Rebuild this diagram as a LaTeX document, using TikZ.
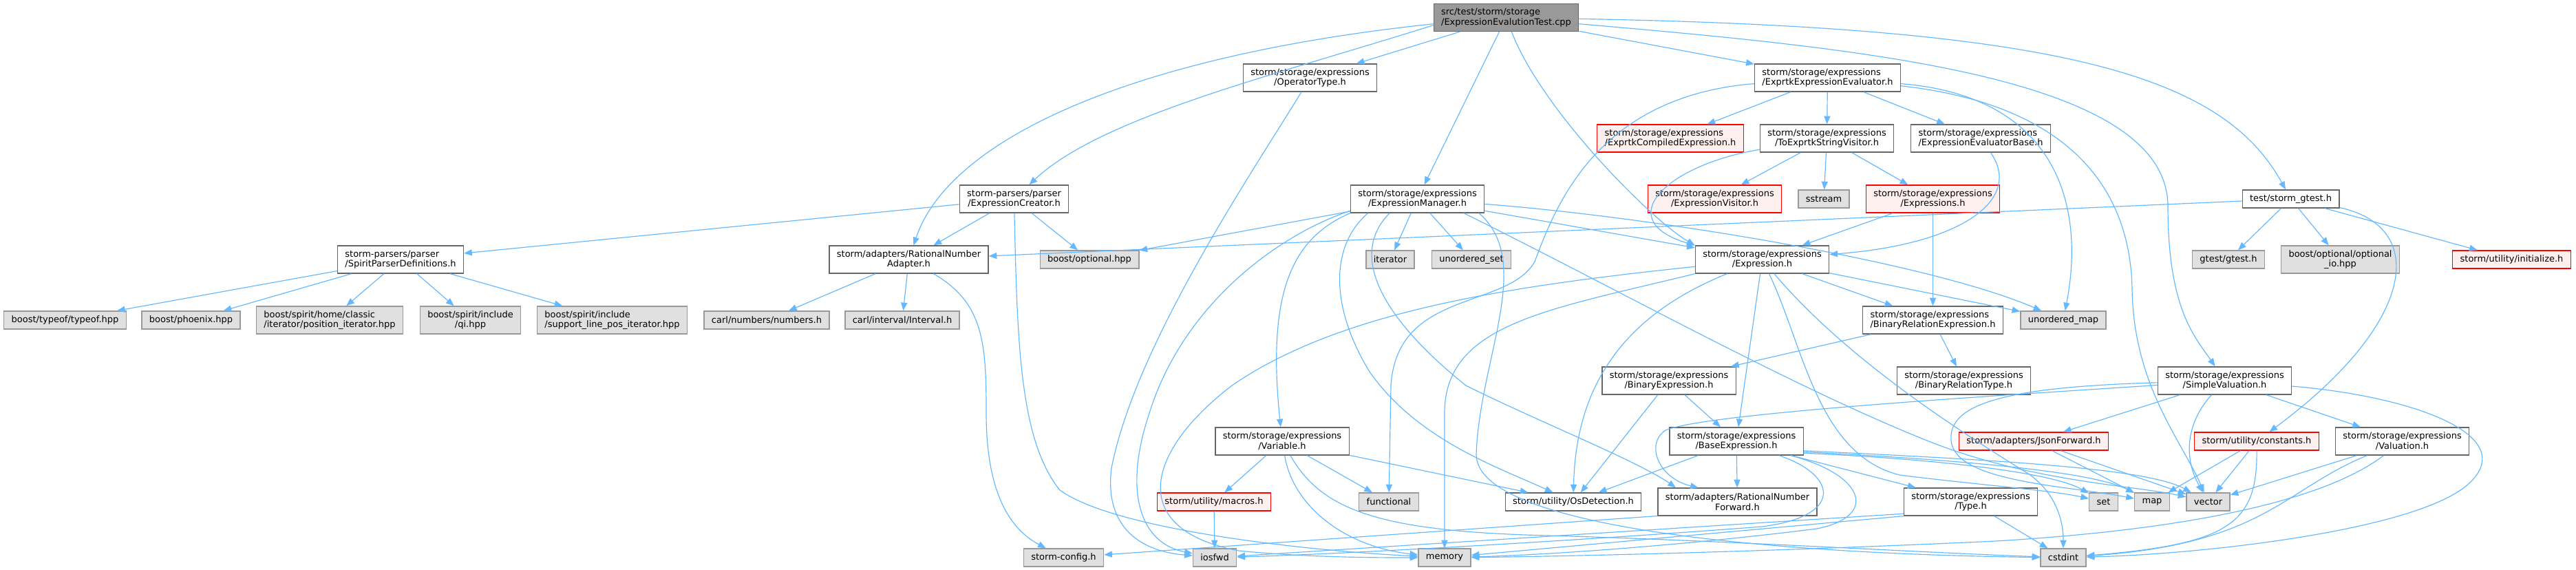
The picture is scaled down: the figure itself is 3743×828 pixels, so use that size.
\documentclass[tikz,border=0pt]{standalone}
\usepackage{fontspec}
\setmainfont{DejaVu Sans}
\usepackage{tikz}
\usetikzlibrary{arrows.meta}
\definecolor{edgeblue}{RGB}{99,184,255}
\definecolor{boxline}{RGB}{102,102,102}
\definecolor{sysline}{RGB}{153,153,153}
\definecolor{sysfill}{RGB}{224,224,224}
\definecolor{redfill}{RGB}{255,240,240}
\definecolor{rootfill}{RGB}{153,153,153}
\tikzset{
  filebox/.style={rectangle, draw=boxline, fill=white, line width=1pt,
    inner xsep=8.4pt, inner ysep=2pt, font=\fontsize{10}{11.3}\selectfont},
  sysbox/.style={filebox, draw=sysline, fill=sysfill},
  redbox/.style={filebox, draw=red, fill=redfill},
  rootbox/.style={filebox, fill=rootfill},
  one/.style={minimum height=20pt},
  two/.style={minimum height=30.8pt},
  incl/.style={-{Triangle[length=9pt,width=7pt]}, line width=0.9pt, color=edgeblue}
}

\begin{document}
\begin{tikzpicture}[x=0.77pt, y=-0.77pt]
  \useasboundingbox (0,0) rectangle (3743,828);
  % ── files, rank by rank ──
  \node[rootbox,two,align=left] (root) at (2188.5,25.5) {src/test/storm/storage\\/ExpressionEvalutionTest.cpp};
  \node[filebox,two,align=center] (optype) at (1903.5,113) {storm/storage/expressions\\/OperatorType.h};
  \node[filebox,two,align=left] (exprtkeval) at (2655.5,113) {storm/storage/expressions\\/ExprtkExpressionEvaluator.h};
  \node[redbox,two,align=left] (compiled) at (2427,201) {storm/storage/expressions\\/ExprtkCompiledExpression.h};
  \node[filebox,two,align=center] (tostring) at (2654.5,201) {storm/storage/expressions\\/ToExprtkStringVisitor.h};
  \node[filebox,two,align=left] (evalbase) at (2878,201) {storm/storage/expressions\\/ExpressionEvaluatorBase.h};
  \node[filebox,two,align=center] (creator) at (1473.5,289) {storm-parsers/parser\\/ExpressionCreator.h};
  \node[filebox,two,align=center] (manager) at (2059.5,289) {storm/storage/expressions\\/ExpressionManager.h};
  \node[redbox,two,align=center] (visitor) at (2491.5,289) {storm/storage/expressions\\/ExpressionVisitor.h};
  \node[sysbox,one] (sstream) at (2650,289) {sstream};
  \node[redbox,two,align=center] (expressions) at (2808.5,289) {storm/storage/expressions\\/Expressions.h};
  \node[filebox,one] (gtest) at (3328.5,289) {test/storm\_gtest.h};
  \node[filebox,two,align=left] (spirit) at (582,377) {storm-parsers/parser\\/SpiritParserDefinitions.h};
  \node[filebox,two,align=center] (ratadapter) at (1320.5,377) {storm/adapters/RationalNumber\\Adapter.h};
  \node[sysbox,one] (optional) at (1583,377) {boost/optional.hpp};
  \node[sysbox,one] (iterator) at (2020,377) {iterator};
  \node[sysbox,one] (uset) at (2138,377) {unordered\_set};
  \node[filebox,two,align=center] (expression) at (2560.5,377) {storm/storage/expressions\\/Expression.h};
  \node[sysbox,one] (gtestgtest) at (3238,377) {gtest/gtest.h};
  \node[sysbox,two,align=center] (optio) at (3400.5,377) {boost/optional/optional\\\_io.hpp};
  \node[redbox,one] (initialize) at (3649.5,377) {storm/utility/initialize.h};
  \node[sysbox,one] (typeof) at (94.5,465) {boost/typeof/typeof.hpp};
  \node[sysbox,one] (phoenix) at (277.5,465) {boost/phoenix.hpp};
  \node[sysbox,two,align=left] (positer) at (479,465) {boost/spirit/home/classic\\/iterator/position\_iterator.hpp};
  \node[sysbox,two,align=center] (qi) at (683.5,465) {boost/spirit/include\\/qi.hpp};
  \node[sysbox,two,align=left] (linepos) at (889.5,465) {boost/spirit/include\\/support\_line\_pos\_iterator.hpp};
  \node[sysbox,one] (numbers) at (1114,465) {carl/numbers/numbers.h};
  \node[sysbox,one] (interval) at (1311,465) {carl/interval/Interval.h};
  \node[filebox,two,align=left] (binrelexpr) at (2808.5,465) {storm/storage/expressions\\/BinaryRelationExpression.h};
  \node[sysbox,one] (umap) at (2998,465) {unordered\_map};
  \node[filebox,two,align=center] (binexpr) at (2425,553) {storm/storage/expressions\\/BinaryExpression.h};
  \node[filebox,two,align=center] (binreltype) at (2853.5,553) {storm/storage/expressions\\/BinaryRelationType.h};
  \node[filebox,two,align=center] (simpleval) at (3232.5,553) {storm/storage/expressions\\/SimpleValuation.h};
  \node[filebox,two,align=center] (variable) at (1863,641) {storm/storage/expressions\\/Variable.h};
  \node[filebox,two,align=center] (baseexpr) at (2523,641) {storm/storage/expressions\\/BaseExpression.h};
  \node[redbox,one] (jsonfwd) at (2955,641) {storm/adapters/JsonForward.h};
  \node[redbox,one] (constants) at (3279,641) {storm/utility/constants.h};
  \node[filebox,two,align=center] (valuation) at (3490.5,641) {storm/storage/expressions\\/Valuation.h};
  \node[redbox,one] (macros) at (1764,729) {storm/utility/macros.h};
  \node[sysbox,one] (functional) at (2018,729) {functional};
  \node[filebox,one] (osdet) at (2286,729) {storm/utility/OsDetection.h};
  \node[filebox,two,align=center] (ratfwd) at (2524.5,729) {storm/adapters/RationalNumber\\Forward.h};
  \node[filebox,two,align=center] (type) at (2863.5,729) {storm/storage/expressions\\/Type.h};
  \node[sysbox,one] (stdset) at (3056.5,729) {set};
  \node[sysbox,one] (stdmap) at (3127,729) {map};
  \node[sysbox,one] (stdvector) at (3208.5,729) {vector};
  \node[sysbox,one] (config) at (1545.5,810) {storm-config.h};
  \node[sysbox,one] (iosfwd) at (1765,810) {iosfwd};
  \node[sysbox,one] (memory) at (2099,810) {memory};
  \node[sysbox,one] (cstdint) at (2998,810) {cstdint};

  % ── includes of the test file ──
  \draw[incl] (root.185) .. controls (1650,80) and (1380,200) .. (ratadapter);
  \draw[incl] (root.186) .. controls (1850,110) and (1600,170) .. (creator);
  \draw[incl] (root) -- (optype);
  \draw[incl] (root) -- (manager);
  \draw[incl] (root) .. controls (2240,160) and (2400,320) .. (expression.north west);
  \draw[incl] (root) -- (exprtkeval);
  \draw[incl] (root) .. controls (2700,70) and (3150,110) .. (3150,300) .. controls (3150,450) and (3190,490) .. (simpleval);
  \draw[incl] (root) .. controls (3000,40) and (3230,110) .. (gtest);
  % parser side
  \draw[incl] (creator) -- (spirit);
  \draw[incl] (creator) -- (ratadapter);
  \draw[incl] (creator) -- (optional);
  \draw[incl] (creator) .. controls (1478,500) and (1482,640) .. (1540,712) .. controls (1620,770) and (1900,800) .. (memory);
  \draw[incl] (spirit) -- (typeof);
  \draw[incl] (spirit) -- (phoenix);
  \draw[incl] (spirit) -- (positer);
  \draw[incl] (spirit) -- (qi);
  \draw[incl] (spirit) -- (linepos);
  \draw[incl] (ratadapter) -- (numbers);
  \draw[incl] (ratadapter) -- (interval);
  \draw[incl] (ratadapter) .. controls (1430,440) and (1433,500) .. (1433,600) .. controls (1433,720) and (1470,770) .. (config);
  \draw[incl] (optype) .. controls (1820,250) and (1650,500) .. (1615,680) .. controls (1605,760) and (1650,800) .. (iosfwd);
  % evaluator
  \draw[incl] (exprtkeval) -- (compiled);
  \draw[incl] (exprtkeval) -- (tostring);
  \draw[incl] (exprtkeval) -- (evalbase);
  \draw[incl] (exprtkeval) .. controls (2990,140) and (3030,300) .. (umap);
  \draw[incl] (exprtkeval) .. controls (2990,150) and (3095,260) .. (3098,420) .. controls (3100,560) and (3170,640) .. (stdvector);
  \draw[incl] (exprtkeval) .. controls (2320,140) and (2260,300) .. (2230,380) .. controls (2190,450) and (2030,420) .. (2021,560) -- (functional);
  \draw[incl] (tostring) -- (visitor);
  \draw[incl] (tostring) -- (sstream);
  \draw[incl] (tostring) -- (expressions);
  \draw[incl] (tostring) .. controls (2420,240) and (2340,320) .. (expression.north west);
  \draw[incl] (evalbase) .. controls (2940,290) and (2850,355) .. (expression);
  \draw[incl] (expressions) -- (expression);
  \draw[incl] (expressions) -- (binrelexpr);
  % gtest
  \draw[incl] (gtest) -- (ratadapter);
  \draw[incl] (gtest) -- (gtestgtest);
  \draw[incl] (gtest) -- (optio);
  \draw[incl] (gtest) -- (initialize);
  \draw[incl] (gtest.-10) .. controls (3530,330) and (3510,470) .. (constants);
  % manager
  \draw[incl] (manager) -- (optional);
  \draw[incl] (manager) -- (iterator);
  \draw[incl] (manager) -- (uset);
  \draw[incl] (manager) -- (expression);
  \draw[incl] (manager) .. controls (2400,315) and (2800,380) .. (umap);
  \draw[incl] (manager.south west) .. controls (1880,345) and (1840,420) .. (variable);
  \draw[incl] (manager.196) .. controls (1930,360) and (1935,450) .. (1990,540) .. controls (2060,640) and (2180,680) .. (osdet);
  \draw[incl] (manager.190) .. controls (1860,340) and (1720,440) .. (1670,600) .. controls (1630,720) and (1660,790) .. (iosfwd);
  \draw[incl] (manager.207) .. controls (1950,380) and (2030,480) .. (2130,560) .. controls (2230,610) and (2380,670) .. (ratfwd.167);
  \draw[incl] (manager.-13.5) .. controls (2230,380) and (2150,520) .. (2145,660) .. controls (2145,770) and (2600,805) .. (cstdint);
  \draw[incl] (manager.-17.5) .. controls (2350,420) and (2600,560) .. (2800,640) .. controls (2950,700) and (3100,705) .. (stdvector);
  % expression
  \draw[incl] (expression) -- (umap);
  \draw[incl] (expression) -- (binrelexpr);
  \draw[incl] (expression) -- (baseexpr);
  \draw[incl] (expression) .. controls (2380,450) and (2290,540) .. (osdet);
  \draw[incl] (expression.south west) .. controls (2250,450) and (2099,470) .. (2099,600) -- (memory);
  \draw[incl] (expression.186) .. controls (2200,415) and (1950,450) .. (1790,560) .. controls (1660,660) and (1640,770) .. (1800,800) .. controls (1900,810) and (2000,810) .. (memory);
  \draw[incl] (expression) .. controls (2620,500) and (2640,660) .. (2760,690) .. controls (2880,705) and (2980,712) .. (stdset);
  \draw[incl] (expression) .. controls (2690,530) and (2870,640) .. (2950,690) .. controls (2990,720) and (2998,760) .. (cstdint);
  \draw[incl] (binrelexpr) -- (binexpr);
  \draw[incl] (binrelexpr) -- (binreltype);
  \draw[incl] (binexpr) -- (osdet);
  \draw[incl] (binexpr) -- (baseexpr);
  % base expression
  \draw[incl] (baseexpr) -- (osdet);
  \draw[incl] (baseexpr) -- (ratfwd);
  \draw[incl] (baseexpr) -- (type);
  \draw[incl] (baseexpr) .. controls (2670,690) and (2680,750) .. (2560,765) .. controls (2300,785) and (1950,805) .. (iosfwd);
  \draw[incl] (baseexpr) .. controls (2710,690) and (2730,750) .. (2640,768) .. controls (2450,792) and (2250,806) .. (memory);
  \draw[incl] (baseexpr.-10) .. controls (2800,666) and (2980,685) .. (stdset);
  \draw[incl] (baseexpr.-9) .. controls (2850,668) and (3040,685) .. (stdmap);
  \draw[incl] (baseexpr.-8) .. controls (2900,668) and (3120,680) .. (stdvector);
  % variable
  \draw[incl] (variable) -- (macros);
  \draw[incl] (variable) -- (functional);
  \draw[incl] (variable) -- (osdet);
  \draw[incl] (variable) .. controls (1880,740) and (1960,795) .. (memory);
  \draw[incl] (variable) .. controls (1920,740) and (2000,772) .. (2250,778) .. controls (2500,785) and (2800,803) .. (cstdint);
  \draw[incl] (macros) -- (iosfwd);
  \draw[incl] (ratfwd.190) -- (config);
  \draw[incl] (type) -- (cstdint);
  \draw[incl] (type.190) -- (iosfwd);
  \draw[incl] (type.south west) -- (memory);
  % valuations
  \draw[incl] (simpleval) .. controls (2900,575) and (2480,600) .. (2420,625) .. controls (2390,645) and (2410,695) .. (ratfwd.160);
  \draw[incl] (simpleval) .. controls (2920,562) and (2830,585) .. (2835,640) .. controls (2840,700) and (3000,705) .. (stdmap);
  \draw[incl] (simpleval) -- (jsonfwd);
  \draw[incl] (simpleval) .. controls (3180,610) and (3170,660) .. (stdvector);
  \draw[incl] (simpleval) -- (valuation);
  \draw[incl] (simpleval) .. controls (3500,575) and (3660,630) .. (3590,700) .. controls (3520,770) and (3200,805) .. (cstdint);
  \draw[incl] (jsonfwd) -- (stdmap);
  \draw[incl] (jsonfwd) -- (stdvector);
  \draw[incl] (constants) -- (stdmap);
  \draw[incl] (constants) -- (stdvector);
  \draw[incl] (constants) .. controls (3280,760) and (3240,790) .. (cstdint);
  \draw[incl] (valuation) -- (stdvector);
  \draw[incl] (valuation) .. controls (3320,710) and (3290,790) .. (cstdint);
  \draw[incl] (valuation) .. controls (3400,710) and (3250,765) .. (2900,786) .. controls (2600,800) and (2300,808) .. (memory);
\end{tikzpicture}
\end{document}
